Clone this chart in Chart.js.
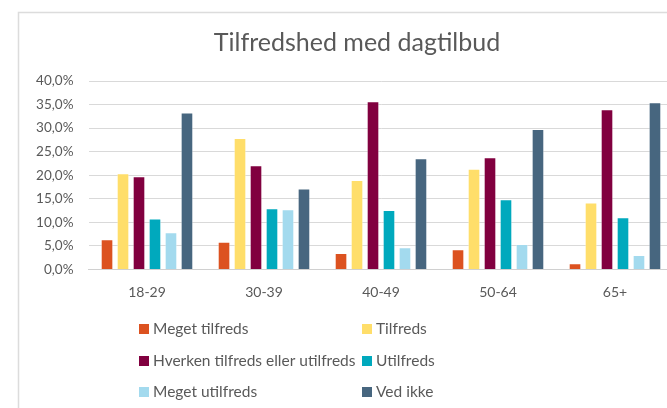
<!DOCTYPE html>
<html>
<head>
<meta charset="utf-8">
<script src="https://cdn.jsdelivr.net/npm/chart.js@4"></script>
<style>
  html, body { margin: 0; padding: 0; overflow: hidden; background: #fff; }
  #wrap { position: relative; width: 714px; height: 408px; }
</style>
</head>
<body>
<div id="wrap"><canvas id="c" width="714" height="408"></canvas></div>
<script>
const categories = ['18-29', '30-39', '40-49', '50-64', '65+'];
const seriesNames = ['Meget tilfreds', 'Tilfreds', 'Hverken tilfreds eller utilfreds', 'Utilfreds', 'Meget utilfreds', 'Ved ikke'];
const megetTilfreds   = [6.4, 5.9, 3.5, 4.3, 1.3];
const tilfreds        = [20.4, 27.9, 19.0, 21.4, 14.2];
const hverken         = [19.8, 22.1, 35.7, 23.8, 34.0];
const utilfreds       = [10.8, 13.0, 12.6, 14.9, 11.1];
const megetUtilfreds  = [7.9, 12.8, 4.7, 5.4, 3.1];
const vedIkke         = [33.3, 17.2, 23.6, 29.8, 35.5];
const seriesColors = ['#DC5220', '#FFDE6A', '#81003F', '#00A9BD', '#A3DAEE', '#47667F'];
const yTicks = [0, 5, 10, 15, 20, 25, 30, 35, 40];

const allSeries = [megetTilfreds, tilfreds, hverken, utilfreds, megetUtilfreds, vedIkke];
const TEXT = '#595959';

const framePlugin = {
  id: 'frame',
  beforeDraw(chart) {
    const ctx = chart.ctx;
    ctx.save();
    ctx.strokeStyle = '#DCDCDC';
    ctx.lineWidth = 1.5;
    ctx.beginPath();
    ctx.moveTo(18.5, 420);
    ctx.lineTo(18.5, 12.5);
    ctx.lineTo(chart.width + 10, 12.5);
    ctx.stroke();
    ctx.restore();
  }
};

const gridLegendPlugin = {
  id: 'gridLegend',
  afterDraw(chart) {
    const ctx = chart.ctx;
    ctx.save();
    ctx.font = '15.5px Lato';
    ctx.textBaseline = 'middle';
    ctx.textAlign = 'left';
    const colX = [139, 362];
    const rowY = [329, 361, 392];
    chart.data.datasets.forEach((ds, i) => {
      const x = colX[i % 2];
      const y = rowY[Math.floor(i / 2)];
      ctx.fillStyle = ds.backgroundColor;
      ctx.fillRect(x, y - 5, 10, 10);
      ctx.fillStyle = TEXT;
      ctx.fillText(ds.label, x + 14, y);
    });
    ctx.restore();
  }
};

new Chart(document.getElementById('c'), {
  type: 'bar',
  data: {
    labels: categories,
    datasets: seriesNames.map((name, i) => ({
      label: name,
      data: allSeries[i],
      backgroundColor: seriesColors[i],
      borderColor: 'rgba(255,255,255,0.45)',
      borderWidth: 1,
      categoryPercentage: 0.82,
      barPercentage: 0.79
    }))
  },
  options: {
    responsive: false,
    animation: false,
    layout: { padding: { left: 0, right: 0, top: 0, bottom: 98.5 } },
    plugins: {
      legend: { display: false },
      tooltip: { enabled: false },
      title: {
        display: true,
        text: 'Tilfredshed med dagtilbud',
        color: TEXT,
        font: { family: 'Lato', size: 25, weight: 'normal' },
        padding: { top: 28, bottom: 23 }
      }
    },
    scales: {
      x: {
        grid: { display: false, drawTicks: false },
        border: { display: true, color: '#D0D0D0', width: 1 },
        ticks: { color: TEXT, font: { family: 'Lato', size: 14 }, padding: 15 },
        afterFit(scale) { scale.height = 40; }
      },
      y: {
        min: 0, max: 40,
        afterBuildTicks(scale) { scale.ticks = yTicks.map(v => ({ value: v })); },
        grid: { color: '#D9D9D9', lineWidth: 1, drawTicks: false },
        border: { display: false },
        ticks: {
          color: TEXT,
          font: { family: 'Lato', size: 13.5 },
          padding: 15,
          callback: v => v.toFixed(1).replace('.', ',') + '%'
        },
        afterFit(scale) { scale.width = 88.5; }
      },
      yRight: {
        position: 'right',
        min: 0, max: 40,
        grid: { display: false, drawTicks: false },
        border: { display: false },
        ticks: { display: false },
        afterFit(scale) { scale.width = 40.5; }
      }
    }
  },
  plugins: [framePlugin, gridLegendPlugin]
});
</script>
</body>
</html>
